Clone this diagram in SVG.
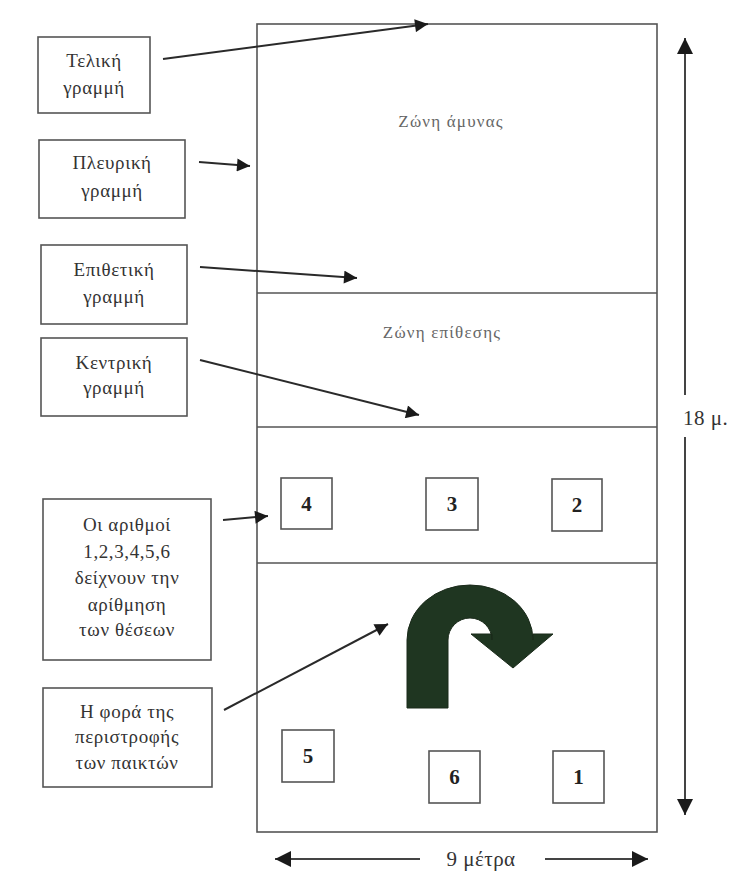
<svg xmlns="http://www.w3.org/2000/svg" width="741" height="874" viewBox="0 0 741 874">
<defs>
<style>
.box{fill:#fff;stroke:#555;stroke-width:1.6}
.court{fill:none;stroke:#555;stroke-width:1.6}
.lbl{font-family:"Liberation Serif","DejaVu Serif",serif;font-size:19px;letter-spacing:0.6px;fill:#333;text-anchor:middle}
.zone{font-family:"Liberation Serif","DejaVu Serif",serif;font-size:17px;letter-spacing:1.2px;fill:#666;text-anchor:middle}
.num{font-family:"Liberation Serif","DejaVu Serif",serif;font-size:21px;font-weight:bold;fill:#222;text-anchor:middle}
.dim{font-family:"Liberation Serif","DejaVu Serif",serif;font-size:21px;letter-spacing:0.5px;fill:#333}
.conn{stroke:#2a2a2a;stroke-width:2;fill:none;marker-end:url(#ah)}
.dline{stroke:#444;stroke-width:2;fill:none}
</style>
<marker id="ah" viewBox="0 0 10 10" refX="10" refY="5" markerWidth="16" markerHeight="13" orient="auto" markerUnits="userSpaceOnUse">
<path d="M0,0 L10,5 L0,10 z" fill="#1a1a1a"/>
</marker>
<marker id="dh" viewBox="0 0 10 10" refX="10" refY="5" markerWidth="18" markerHeight="16" orient="auto-start-reverse" markerUnits="userSpaceOnUse">
<path d="M0,0 L10,5 L0,10 z" fill="#1a1a1a"/>
</marker>
</defs>
<rect width="741" height="874" fill="#fff"/>

<g id="court">
<rect class="court" x="257" y="24" width="400" height="808"/>
<line class="court" x1="257" y1="293" x2="657" y2="293"/>
<line class="court" x1="257" y1="427" x2="657" y2="427"/>
<line class="court" x1="257" y1="563" x2="657" y2="563"/>
<text class="zone" x="451" y="127">Ζώνη άμυνας</text>
<text class="zone" x="442" y="338" letter-spacing="2px">Ζώνη επίθεσης</text>
</g>

<g id="pos4"><rect class="box" x="281" y="478" width="51" height="51"/><text class="num" x="306.5" y="511">4</text></g>
<g id="pos3"><rect class="box" x="426" y="478" width="52" height="52"/><text class="num" x="452" y="511">3</text></g>
<g id="pos2"><rect class="box" x="552" y="479" width="50" height="52"/><text class="num" x="577" y="512">2</text></g>
<g id="pos5"><rect class="box" x="282" y="730" width="52" height="52"/><text class="num" x="308" y="763">5</text></g>
<g id="pos6"><rect class="box" x="429" y="751" width="51" height="52"/><text class="num" x="454.5" y="784">6</text></g>
<g id="pos1"><rect class="box" x="553" y="751" width="51" height="52"/><text class="num" x="578.5" y="784">1</text></g>

<g id="rotation-arrow">
<path d="M407,708 L407,640 A63,55 0 0 1 533,640 L533,634 L553,634 L513,668 L471,634 L492,634 L492,640 A22,22 0 0 0 448,640 L448,708 Z" fill="#1f3621" stroke="#1a2a1a" stroke-width="1"/>
</g>

<g id="lbl-teliki"><rect class="box" x="38" y="37" width="112" height="76"/><text class="lbl" x="94" y="67">Τελική</text><text class="lbl" x="94" y="94">γραμμή</text></g>
<g id="lbl-pleuriki"><rect class="box" x="39" y="140" width="146" height="78"/><text class="lbl" x="112" y="169">Πλευρική</text><text class="lbl" x="112" y="197">γραμμή</text></g>
<g id="lbl-epithetiki"><rect class="box" x="41" y="245" width="146" height="79"/><text class="lbl" x="114" y="276">Επιθετική</text><text class="lbl" x="114" y="303">γραμμή</text></g>
<g id="lbl-kentriki"><rect class="box" x="41" y="338" width="146" height="78"/><text class="lbl" x="114" y="369">Κεντρική</text><text class="lbl" x="114" y="394">γραμμή</text></g>
<g id="lbl-arithmoi"><rect class="box" x="43" y="499" width="168" height="161"/>
<text class="lbl" x="127" y="531">Οι αριθμοί</text>
<text class="lbl" x="127" y="558">1,2,3,4,5,6</text>
<text class="lbl" x="127" y="584">δείχνουν την</text>
<text class="lbl" x="127" y="611">αρίθμηση</text>
<text class="lbl" x="127" y="636">των θέσεων</text></g>
<g id="lbl-fora"><rect class="box" x="43" y="688" width="169" height="99"/>
<text class="lbl" x="127" y="718">Η φορά της</text>
<text class="lbl" x="127" y="743">περιστροφής</text>
<text class="lbl" x="127" y="769">των παικτών</text></g>

<g id="connectors">
<line class="conn" x1="163" y1="59" x2="428" y2="24"/>
<line class="conn" x1="199" y1="162" x2="250" y2="166"/>
<line class="conn" x1="200" y1="267" x2="357" y2="278"/>
<line class="conn" x1="200" y1="360" x2="419" y2="415"/>
<line class="conn" x1="223" y1="520" x2="268" y2="516"/>
<line class="conn" x1="224" y1="710" x2="388" y2="624"/>
</g>

<g id="dimensions">
<line class="dline" x1="685" y1="395" x2="685" y2="38" marker-end="url(#dh)"/>
<line class="dline" x1="685" y1="437" x2="685" y2="815" marker-end="url(#dh)"/>
<text class="dim" x="683" y="425">18 μ.</text>
<line class="dline" x1="420" y1="859" x2="275" y2="859" marker-end="url(#dh)"/>
<line class="dline" x1="545" y1="859" x2="648" y2="859" marker-end="url(#dh)"/>
<text class="dim" x="481" y="866" text-anchor="middle">9 μέτρα</text>
</g>
</svg>
